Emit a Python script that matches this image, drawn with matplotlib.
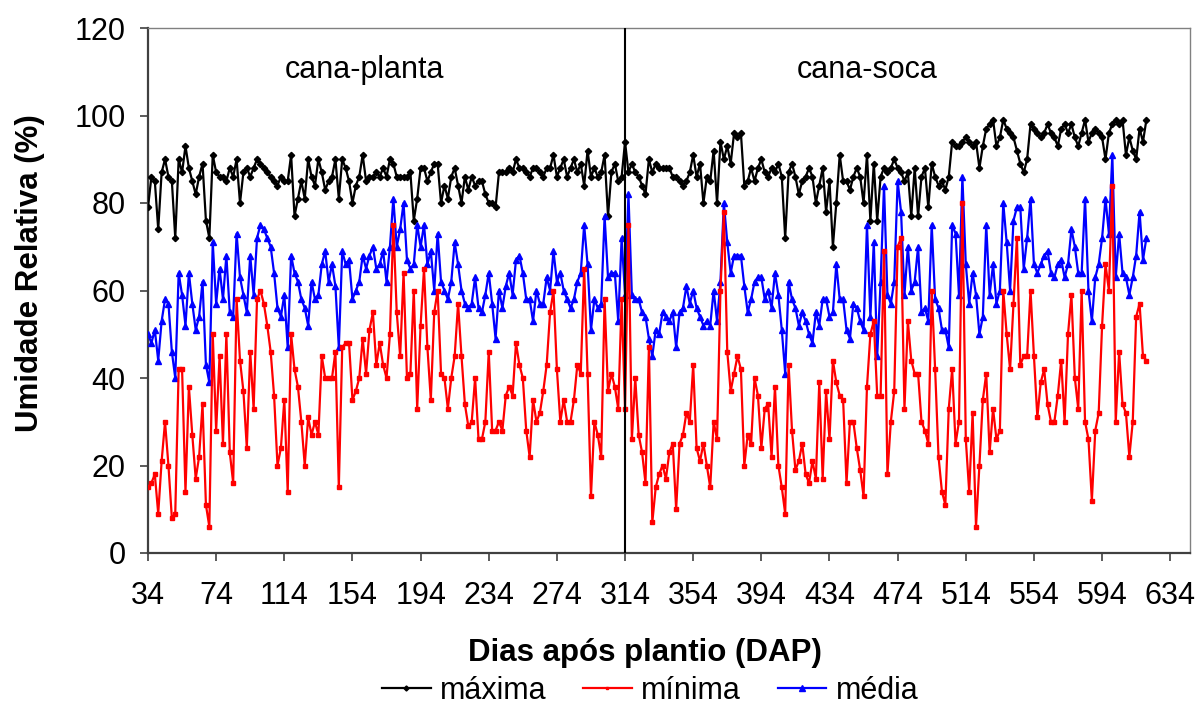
import numpy as np
import matplotlib
matplotlib.use("Agg")
import matplotlib.pyplot as plt
from matplotlib.lines import Line2D

# Dias após plantio (registro a cada 2 dias)
days = np.arange(34, 621, 2)

# Umidade relativa máxima (%)
maxima = [
    79, 86, 85, 74, 87, 90, 86, 85, 72, 90, 87, 93, 88, 85, 82, 86, 89, 76, 72, 91,
    87, 86, 86, 85, 88, 86, 90, 80, 87, 88, 86, 88, 90, 89, 88, 87, 86, 85, 84, 86,
    85, 85, 91, 77,
    81, 85, 81, 90, 86, 84, 90, 87, 83, 85, 86, 90, 81, 90, 88, 85, 80, 84, 86, 91,
    85, 86, 86, 87, 86, 88, 86, 90, 89, 86, 86, 86, 86, 87, 76, 81, 88, 88, 85, 87,
    89, 89, 80,
    84, 81, 86, 88, 84, 80, 86, 83, 86, 84, 85, 85, 82, 80, 80, 79, 87, 87, 87, 88,
    87, 90, 88, 88, 87, 86, 88, 88, 87, 86, 88, 88, 91, 86, 88, 90, 86, 88, 90, 87,
    89, 84, 92, 86,
    88, 86, 87, 91, 77, 87, 89, 85, 86, 94, 87, 89, 87, 86, 84, 82, 90, 87, 89, 88,
    88, 88, 88, 86, 86, 85, 84, 85, 87, 91, 86, 89, 80, 86, 85, 92, 80, 94, 90, 93,
    89, 96, 95,
    96, 84, 85, 88, 85, 88, 90, 87, 86, 88, 87, 89, 86, 72, 87, 89, 86, 82, 85, 86,
    88, 86, 80, 84, 88, 78, 85, 70, 80, 91, 85, 85, 83, 86, 88, 86, 80, 91, 76, 89,
    76, 86, 88, 87,
    88, 90, 88, 87, 85, 87, 77, 88, 77, 86, 88, 79, 89, 86, 84, 85, 83, 86, 94, 93,
    93, 94, 95, 94, 93, 94, 88, 93, 97, 98, 99, 93, 95, 99, 97, 96, 95, 92, 89, 87,
    90, 98, 97,
    96, 95, 96, 98, 96, 95, 93, 97, 98, 96, 98, 95, 93, 96, 99, 94, 96, 97, 96, 95,
    90, 96, 98, 99, 98, 99, 91, 95, 92, 90, 97, 94, 99,
]

# Umidade relativa mínima (%)
minima = [
    15, 16, 18, 9, 21, 30, 20, 8, 9, 42, 42, 14, 38, 27, 17, 22, 34, 11, 6, 50,
    28, 45, 25, 50, 23, 16, 58, 44, 37, 24, 46, 33, 58, 60, 57, 52, 46, 36, 20, 24,
    35, 14, 50, 42,
    38, 30, 20, 31, 27, 30, 27, 45, 40, 40, 40, 46, 15, 47, 48, 48, 35, 37, 40, 49,
    41, 51, 55, 43, 48, 43, 40, 50, 75, 55, 45, 64, 40, 41, 60, 33, 52, 65, 47, 35,
    55, 60, 41,
    40, 33, 40, 45, 57, 45, 34, 29, 30, 40, 26, 26, 30, 46, 28, 28, 30, 28, 36, 38,
    36, 48, 43, 40, 28, 22, 35, 30, 32, 37, 43, 55, 60, 42, 30, 35, 30, 30, 35, 43,
    41, 65, 41, 13,
    30, 27, 22, 58, 37, 41, 38, 33, 58, 33, 75, 26, 40, 27, 23, 16, 47, 7, 15, 18,
    20, 17, 23, 25, 10, 25, 27, 32, 30, 43, 24, 21, 25, 20, 15, 30, 26, 60, 78, 46,
    37, 41, 45,
    42, 20, 27, 25, 40, 36, 24, 33, 34, 22, 38, 20, 15, 9, 43, 28, 19, 21, 25, 18,
    16, 21, 17, 39, 17, 37, 26, 44, 39, 36, 35, 16, 30, 30, 24, 19, 13, 38, 50, 53,
    36, 36, 69, 18,
    30, 37, 70, 72, 33, 53, 44, 41, 41, 30, 28, 25, 60, 42, 22, 14, 11, 33, 42, 25,
    30, 80, 26, 14, 32, 6, 20, 35, 41, 23, 33, 26, 28, 60, 50, 42, 57, 72, 43, 45,
    45, 60, 45,
    31, 39, 42, 34, 30, 30, 36, 44, 30, 50, 59, 40, 33, 60, 30, 26, 12, 28, 32, 52,
    66, 60, 84, 30, 46, 34, 32, 22, 30, 54, 57, 45, 44,
]

# Umidade relativa média (%)
media = [
    50, 48, 51, 44, 53, 58, 57, 46, 40, 64, 59, 52, 64, 57, 51, 54, 62, 43, 39, 71,
    57, 65, 58, 68, 55, 54, 73, 63, 59, 55, 68, 59, 72, 75, 74, 72, 70, 64, 56, 54,
    59, 47, 68, 64,
    62, 58, 56, 52, 62, 58, 59, 66, 69, 62, 66, 61, 47, 69, 66, 67, 58, 60, 62, 68,
    65, 68, 70, 65, 66, 69, 62, 70, 81, 70, 74, 80, 67, 65, 66, 75, 70, 75, 66, 69,
    60, 73, 62,
    60, 58, 62, 71, 66, 60, 57, 56, 57, 63, 56, 55, 59, 64, 57, 49, 60, 56, 61, 64,
    59, 67, 68, 64, 58, 58, 53, 60, 57, 57, 63, 60, 69, 62, 64, 60, 58, 56, 58, 62,
    64, 75, 66, 51,
    58, 56, 57, 77, 63, 64, 64, 53, 72, 59, 82, 59, 58, 58, 55, 54, 49, 45, 51, 50,
    55, 54, 53, 55, 47, 55, 56, 61, 57, 60, 56, 54, 52, 53, 52, 60, 53, 62, 80, 71,
    64, 68, 68,
    68, 61, 55, 58, 62, 63, 63, 58, 60, 56, 64, 59, 51, 41, 62, 58, 56, 52, 55, 53,
    50, 48, 55, 52, 58, 58, 54, 55, 66, 58, 58, 51, 49, 57, 56, 53, 51, 75, 54, 71,
    45, 62, 84, 59,
    57, 62, 85, 78, 59, 70, 60, 62, 70, 55, 56, 53, 75, 58, 56, 51, 51, 47, 75, 73,
    59, 86, 66, 57, 64, 59, 50, 54, 75, 59, 66, 57, 60, 80, 71, 60, 76, 79, 79, 65,
    72, 81, 66,
    64, 66, 68, 69, 64, 63, 66, 67, 63, 66, 74, 70, 64, 64, 81, 60, 53, 63, 66, 72,
    81, 73, 91, 63, 73, 64, 63, 59, 63, 68, 78, 67, 72,
]

xticks = list(range(34, 635, 40))
yticks = [0, 20, 40, 60, 80, 100, 120]
corte = 314
periodos = [("cana-planta", 161), ("cana-soca", 456)]

plt.rcParams['font.family'] = ['Liberation Sans', 'DejaVu Sans']

W, H = 1198, 709
fig = plt.figure(figsize=(W / 100, H / 100), dpi=100)
ax = fig.add_axes([148 / W, 156 / H, 1042 / W, 525 / H])

l_max, = ax.plot(days, maxima, color='black', lw=1.6, marker='D', ms=3.2,
                 zorder=3, label='máxima')
l_med, = ax.plot(days, media, color='#0000ff', lw=1.6, marker='^', ms=5,
                 zorder=3, label='média')
l_min, = ax.plot(days, minima, color='#ff0000', lw=1.6, marker='s', ms=2.6,
                 zorder=4, label='mínima')

ax.axvline(corte, color='black', lw=1.5, zorder=5)

for nome, xpos in periodos:
    ax.text(xpos, 110.5, nome, ha='center', va='center', fontsize=22)

ax.set_xlim(34, 645.6)
ax.set_ylim(0, 120)
ax.set_xticks(xticks)
ax.set_yticks(yticks)
ax.tick_params(axis='both', direction='out', length=6, width=1.2,
               labelsize=22, color='#404040')
ax.tick_params(axis='x', pad=14)
ax.tick_params(axis='y', pad=10)

for s in ('left', 'bottom'):
    ax.spines[s].set_color('#404040')
    ax.spines[s].set_linewidth(1.6)
for s in ('top', 'right'):
    ax.spines[s].set_color('#808080')
    ax.spines[s].set_linewidth(1.0)

fig.text(30 / W, 1 - 273 / H, 'Umidade Relativa (%)', rotation=90,
         ha='center', va='center', fontsize=22.5, fontweight='bold')
fig.text(645 / W, 1 - 653 / H, 'Dias após plantio (DAP)',
         ha='center', va='center', fontsize=22.5, fontweight='bold')

ax.legend(handles=[l_max, l_min, l_med], loc='center',
          bbox_to_anchor=(650 / W, 1 - 691 / H), bbox_transform=fig.transFigure,
          ncol=3, frameon=False, fontsize=22, handlelength=1.6,
          handletextpad=0.3, columnspacing=1.2, markerscale=0.8)

fig.savefig('out.png', dpi=100)
